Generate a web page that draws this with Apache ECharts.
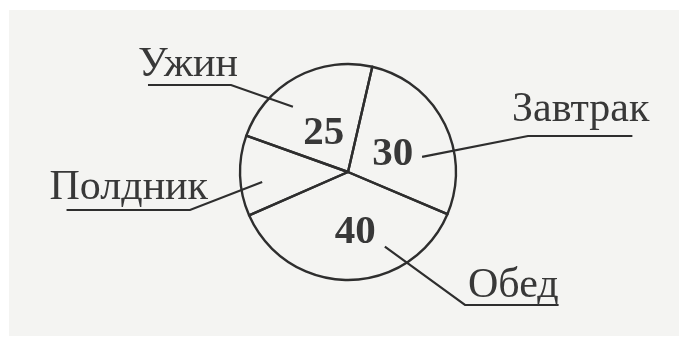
<!DOCTYPE html>
<html>
<head>
<meta charset="UTF-8">
<title>Рацион</title>
<script src="https://cdn.jsdelivr.net/npm/echarts@6/dist/echarts.min.js"></script>
<style>
  html, body { margin: 0; padding: 0; background: #fff; }
  #chart {
    width: 679px; height: 338px;
    background: linear-gradient(#f4f4f2, #f4f4f2) 9px 10px / 670px 326px no-repeat, #fff;
  }
</style>
</head>
<body>
<div id="chart"></div>
<script>
var meals = ['Завтрак', 'Обед', 'Полдник', 'Ужин'];
var shares = [30, 40, 13, 25];          // у полдника числа нет, оценено по рисунку
var printed = [true, true, false, true];

// центр круга и радиус
var cx = 348, cy = 172, R = 108;

// подписи: x края текста, базовая линия, линия подчёркивания, отступы подчёркивания,
// начало выноски (угол от севера по часовой, доля радиуса)
var callouts = {
    'Завтрак': { x: 512, base: 122, under: 136, align: 'left',  inset: [16, 17], from: [78.5, 0.70] },
    'Обед':    { x: 468, base: 298, under: 305, align: 'left',  inset: [-3, 0],  from: [153.7, 0.77] },
    'Полдник': { x: 208, base: 200, under: 210, align: 'right', inset: [18, 17], from: [263.4, 0.80] },
    'Ужин':    { x: 238, base: 77,  under: 85,  align: 'right', inset: [7, 10],  from: [319.8, 0.79] }
};
// мелкий сдвиг чисел внутри секторов
var nudge = { 'Завтрак': [-6, 8], 'Обед': [7, 3], 'Полдник': [0, 0], 'Ужин': [3, 11] };

var data = meals.map(function (m, i) {
    return { name: m, value: shares[i] };
});

function polar(deg, k) {
    var a = deg * Math.PI / 180;
    return [cx + Math.sin(a) * R * k, cy - Math.cos(a) * R * k];
}

var ink = '#2e2e2e';
var labelSize = 42;

var option = {
    animation: false,
    series: [
        {
            type: 'pie',
            center: [cx, cy],
            radius: [0, R],
            startAngle: 77,
            clockwise: true,
            silent: true,
            avoidLabelOverlap: false,
            data: data,
            itemStyle: {
                color: 'rgba(0,0,0,0)',
                borderColor: ink,
                borderWidth: 2.4
            },
            label: {
                position: 'inside',
                color: '#383838',
                fontFamily: 'Liberation Serif',
                fontWeight: 'bold',
                fontSize: 41,
                formatter: function (p) {
                    return printed[p.dataIndex] ? String(p.value) : '';
                }
            },
            labelLine: { show: false },
            labelLayout: function (params) {
                var d = nudge[meals[params.dataIndex]];
                return { dx: d[0], dy: d[1] };
            }
        },
        {
            type: 'pie',
            center: [cx, cy],
            radius: [0, R],
            startAngle: 77,
            clockwise: true,
            silent: true,
            avoidLabelOverlap: false,
            data: data,
            itemStyle: { color: 'rgba(0,0,0,0)', borderWidth: 0 },
            label: {
                position: 'outside',
                color: '#383838',
                fontFamily: 'Liberation Serif',
                fontSize: labelSize,
                formatter: '{b}'
            },
            labelLine: {
                show: true,
                length: 10,
                length2: 10,
                lineStyle: { color: ink, width: 2.2 }
            },
            labelLayout: function (params) {
                var c = callouts[meals[params.dataIndex]];
                var w = params.labelRect.width;
                var near, far;
                if (c.align === 'left') {
                    near = [c.x + c.inset[0], c.under];
                    far = [c.x + w - c.inset[1], c.under];
                } else {
                    near = [c.x - c.inset[0], c.under];
                    far = [c.x - w + c.inset[1], c.under];
                }
                return {
                    x: c.x,
                    y: c.base + Math.round(labelSize * 0.21),
                    align: c.align,
                    verticalAlign: 'bottom',
                    labelLinePoints: [polar(c.from[0], c.from[1]), near, far]
                };
            }
        }
    ]
};

echarts.init(document.getElementById('chart')).setOption(option);
</script>
</body>
</html>
